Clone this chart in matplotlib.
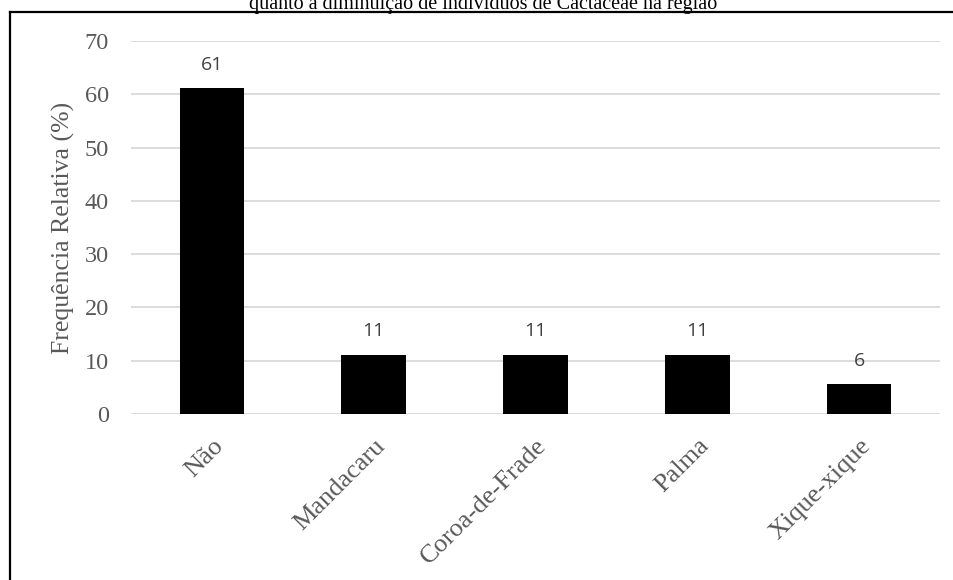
import matplotlib
matplotlib.use("Agg")
import matplotlib.pyplot as plt
from matplotlib.lines import Line2D

# Data
categories = ["Não", "Mandacaru", "Coroa-de-Frade", "Palma", "Xique-xique"]
values = [61.1, 11.1, 11.1, 11.1, 5.6]
value_labels = ["61", "11", "11", "11", "6"]
y_ticks = [0, 10, 20, 30, 40, 50, 60, 70]

title = "quanto à diminuição de indivíduos de Cactaceae na região"
ylabel = "Frequência Relativa (%)"

serif = "Liberation Serif"
gray = "#595959"

fig = plt.figure(figsize=(9.54, 5.80), dpi=100)
ax = fig.add_axes([131/954, 1 - 414/580, (940 - 131)/954, (414 - 41)/580])

x = range(len(categories))
bars = ax.bar(x, values, width=0.4, color="black", zorder=3)

for b, lab in zip(bars, value_labels):
    ax.annotate(lab, (b.get_x() + b.get_width()/2, b.get_height()),
                xytext=(0, 10.5), textcoords="offset points",
                ha="center", va="bottom", fontsize=14,
                family="Open Sans", color="#404040")

ax.set_xlim(-0.5, len(categories) - 0.5)
ax.set_ylim(0, 70)
ax.set_yticks(y_ticks)
ax.set_xticks(list(x))
ax.set_xticklabels(categories, rotation=45, ha="right", rotation_mode="anchor",
                   family=serif, fontsize=19, color=gray)
for t in ax.get_yticklabels():
    t.set_family(serif)
    t.set_fontsize(17.5)
    t.set_color(gray)
ax.tick_params(axis="both", length=0)
ax.tick_params(axis="y", pad=16)
ax.tick_params(axis="x", pad=15)
ax.grid(axis="y", color="#d9d9d9", lw=1.3, zorder=0)
for s in ax.spines.values():
    s.set_visible(False)
ax.set_ylabel(ylabel, family=serif, fontsize=18.5, color=gray, labelpad=7)

# frame lines and cut-off title
fig.add_artist(Line2D([10/954, 10/954], [0, 1 - 12/580], color="black", lw=1.6))
fig.add_artist(Line2D([10/954, 1], [1 - 12/580, 1 - 12/580], color="black", lw=1.6))
fig.text(483/954, 1 - 9/580, title, ha="center", va="baseline",
         family=serif, fontsize=14.5, color="black")

fig.savefig("out.png", dpi=100)
